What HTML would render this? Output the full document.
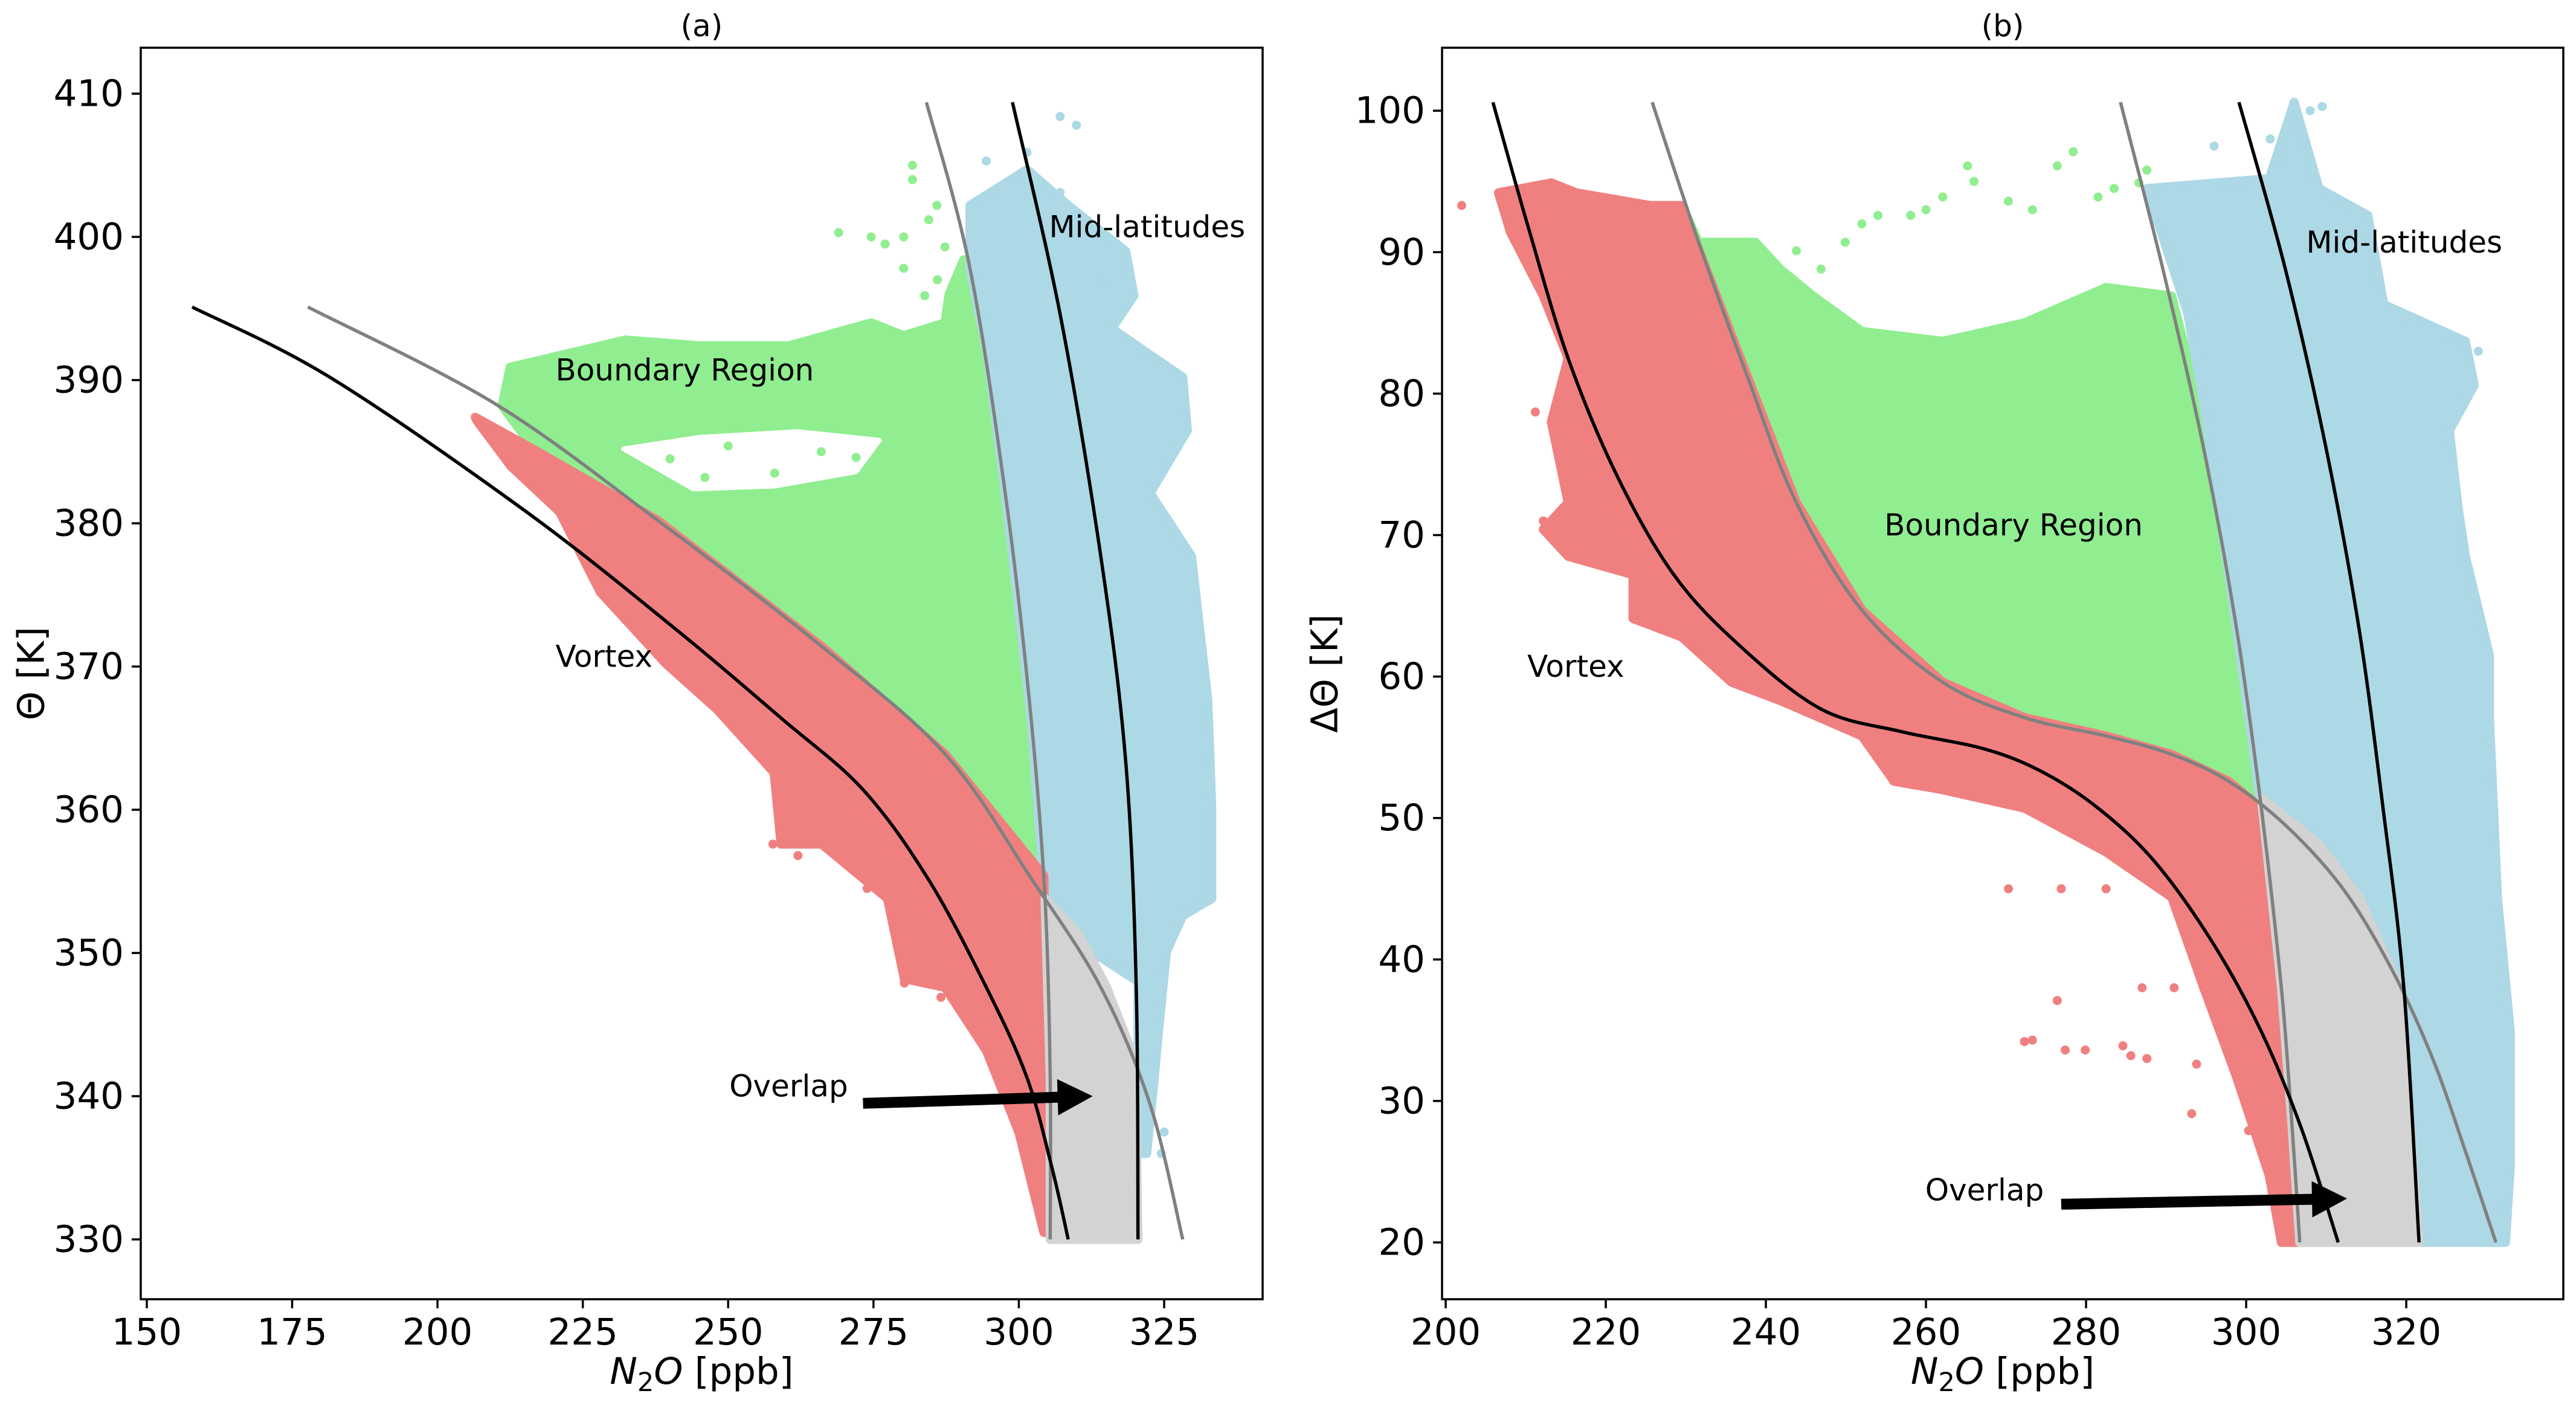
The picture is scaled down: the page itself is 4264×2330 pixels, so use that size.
<!DOCTYPE html>
<html><head><meta charset="utf-8">
<style>
html,body{margin:0;padding:0;background:#fff;}
svg{display:block;font-family:"DejaVu Sans","Liberation Sans",sans-serif;}
</style></head>
<body>
<svg id="chart" width="4264" height="2330" viewBox="0 0 4264 2330" xmlns="http://www.w3.org/2000/svg"></svg>
<script>
// ---------- Panel (a) data ----------
const aXTicks = [150,175,200,225,250,275,300,325];
const aYTicks = [330,340,350,360,370,380,390,400,410];
const aVortexCurve = [[157.8,395.1],[181.5,390.2],[215.3,380.8],[240.7,372.7],[259.1,366.4],[273.2,361.4],[284.5,355.1],[294.4,347.6],[301.4,341.3],[305.7,335],[308.5,330]];
const aVortexEdge = [[177.7,395.1],[209.7,388.4],[237.9,380.2],[266.1,371.4],[287.3,363.9],[302.3,355.1],[314.1,347.6],[322.6,339.4],[328.2,330]];
const aMidEdge = [[284.1,409.4],[291.6,397.8],[297.9,381.4],[302.1,366.4],[304.5,353.8],[305.4,341.3],[305.4,330]];
const aMidCurve = [[298.9,409.4],[307.1,394.6],[314.1,377.7],[318.4,363.3],[320.2,347.6],[320.5,330]];
const aGreen = [[211.1,388.2],[212.5,390.9],[232.3,392.8],[245,392.4],[260.5,392.4],[274.6,394],[280.2,393.1],[287.3,394],[288,396],[290.5,398.4],[294.4,388.4],[297.9,381.4],[302.1,366.4],[304.5,353.8],[302.3,355.1],[287.3,363.9],[266.1,371.4],[237.9,380.2],[216.8,385.1]];
const aGreenGap = [[232,385.2],[245,386],[262,386.4],[276,385.8],[272,383.6],[258,382.6],[244,382.4]];
const aGreenDots = [[281.7,405],[281.7,404],[269,400.3],[274.6,400],[280.2,400],[284.5,401.2],[287.3,399.3],[283.8,395.9],[280.2,397.8],[285.9,402.2],[277,399.5],[286,397],[240,384.5],[250,385.4],[258,383.5],[266,385],[272,384.6],[246,383.2]];
const aBlue = [[291.6,402.2],[301.4,404.7],[308.5,402.2],[318.4,399],[319.8,395.9],[316,393.6],[328.2,390.2],[329,386.5],[322.6,382.1],[329.7,377.7],[331.1,372.7],[332.5,367.7],[333.2,360.1],[333.2,353.8],[328.2,352.6],[325.4,350.1],[324,344.4],[323.3,341.3],[322,336],[320.5,336],[320.5,348],[305.4,352],[304.5,353.8],[302.1,366.4],[297.9,381.4],[294.5,392],[291.6,397.8]];
const aBlueDots = [[307.1,408.4],[309.9,407.8],[301.4,405.9],[294.4,405.3],[307.1,403.1],[318.4,396.5],[314,397],[324.5,336],[325,337.5]];
const aRed = [[206.5,387.4],[216.8,385.1],[237.9,380.2],[266.1,371.4],[287.3,363.9],[304.3,355.4],[304.9,341.3],[307.1,333.1],[308.5,330],[304.3,330.5],[300,337.5],[294.4,343.2],[287.3,347.6],[280.3,348.2],[277.4,353.8],[266.1,357.6],[259.1,357.6],[257.9,362.6],[248.1,367],[239.3,370.2],[228,375.2],[221,380.8],[212.6,384],[206.9,387.1]];
const aRedDots = [[257.7,357.6],[260.5,357.9],[273.9,354.5],[280.3,351.3],[280.3,347.9],[284.5,348.2],[286.6,346.9],[262,356.8]];
const aGrey = [[304.5,353.8],[310.3,351.3],[315.1,347.6],[320,342.5],[320.5,330],[305.4,330],[305.4,341.3]];
const aArrow = [[273.2,339.5],[312.7,340]];
const aLabels = [["Mid-latitudes",305.2,400.7],["Boundary Region",220.3,390.7],["Vortex",220.3,370.7],["Overlap",250.2,340.7]];

// ---------- Panel (b) data ----------
const bXTicks = [200,220,240,260,280,300,320];
const bYTicks = [20,30,40,50,60,70,80,90,100];
const bVortexCurve = [[205.9,100.6],[210.2,92.0],[215.3,82.5],[221.4,74.2],[228.5,67.2],[236.7,62.2],[246.9,57.7],[257.0,56.1],[267.2,54.9],[274.4,53.3],[281.5,50.7],[288.6,46.9],[295.8,41.2],[301.9,34.9],[307.0,27.9],[311.5,20]];
const bVortexEdge = [[225.8,100.6],[231.6,90.7],[237.7,81.2],[243.8,72.3],[252.0,64.7],[262.1,59.6],[272.3,57.1],[282.5,55.8],[290.7,54.5],[297.8,52.6],[304.9,49.5],[312.1,45.0],[318.2,39.3],[323.3,33.0],[327.3,26.6],[331.2,20]];
const bMidEdge = [[284.3,100.6],[289.6,88.8],[294.7,76.1],[298.8,63.4],[301.9,50.7],[304.4,38.0],[305.7,28.5],[306.7,20]];
const bMidCurve = [[299.1,100.6],[304.9,88.8],[310.0,76.1],[314.1,63.4],[317.1,50.7],[319.7,38.0],[321.6,20]];
const bGreen = [[229.5,93.3],[231.6,90.7],[238.7,90.7],[241.8,88.8],[245.9,86.9],[252,84.4],[262.1,83.7],[272.3,85],[282.5,87.5],[290.7,86.9],[292.7,82.5],[294.7,79.3],[298.8,63.4],[301.9,51.4],[297.8,52.6],[290.7,54.5],[282.5,55.8],[272.3,57.1],[262.1,59.6],[252,64.7],[243.8,72.3],[237.7,81.2]];
const bGreenDots = [[237.7,90.7],[243.8,90.1],[252,92],[258.1,92.6],[262.1,93.9],[265.2,96.1],[270.3,93.6],[276.4,96.1],[278.4,97.1],[281.5,93.9],[283.5,94.5],[273.3,93],[286.6,94.9],[287.6,95.8],[246.9,88.8],[249.9,90.7],[254,92.6],[240.7,88.8],[266,95],[260,93]];
const bBlue = [[287.6,94.5],[302.9,95.2],[306,100.6],[309.1,94.5],[315.2,92.6],[317.2,86.3],[327.4,83.7],[328.5,80.6],[325.4,77.4],[326.4,72.3],[327.4,68.5],[330.4,61.5],[330.4,57.1],[331.4,44.4],[333,34.9],[333,25.4],[332.4,20],[307,20],[305.7,28.5],[304.4,38],[301.9,50.7],[298.8,63.4],[294.7,79.3],[292.7,85.7]];
const bBlueDots = [[308,100],[309.5,100.3],[296,97.5],[303,98],[318,86],[320,85],[329,83]];
const bRed = [[206.6,94.2],[213.2,94.9],[216.3,94.2],[225.5,93.3],[229.5,93.3],[237.7,81.2],[243.8,72.3],[252.0,64.7],[262.1,59.6],[272.3,57.1],[282.5,55.8],[290.7,54.5],[297.8,52.6],[301.9,50.7],[304.4,38.0],[305.7,28.5],[306.7,20],[304.4,20],[302.9,24.7],[298.8,31.7],[294.7,38.0],[290.7,44.4],[282.5,47.6],[272.3,50.7],[262.1,52.0],[256.0,52.6],[252.0,55.8],[241.8,58.3],[235.7,59.6],[229.5,62.8],[223.4,64.1],[223.4,67.2],[215.3,68.5],[212.2,70.4],[215.3,72.3],[213.2,78.0],[215.3,82.5],[212.2,86.9],[208.1,91.4]];
const bRedDots = [[270.3,45],[272.3,34.2],[273.3,34.3],[276.4,37.1],[277.4,33.6],[279.9,33.6],[284.6,33.9],[287.6,33],[285.6,33.2],[293.2,29.1],[293.8,32.6],[300.3,27.9],[304.4,25.3],[306.4,22.2],[310,20.9],[308.5,20.6],[276.9,45],[282.5,45],[213.2,71],[212.2,71],[202,93.3],[211.2,78.7],[287,38],[291,38]];
const bGrey = [[301.9,51.4],[309,48.2],[314.1,44.4],[317.1,40.6],[319.2,38.0],[321.6,20],[306.7,20],[305.7,28.5],[304.4,38]];
const bArrow = [[276.9,22.7],[312.6,23.1]];
const bLabels = [["Mid-latitudes",307.5,90.7],["Boundary Region",254.8,70.7],["Vortex",210.2,60.7],["Overlap",259.9,23.7]];

const NS = "http://www.w3.org/2000/svg";
const svg = document.getElementById('chart');
function mk(tag, attrs, parent){ const e=document.createElementNS(NS,tag); for(const k in attrs) e.setAttribute(k,attrs[k]); (parent||svg).appendChild(e); return e; }

const COL = {green:"#90ee90", blue:"#add8e6", red:"#f08080", grey:"#d3d3d3"};

function smoothPath(P){
  let d = 'M'+P[0][0].toFixed(1)+','+P[0][1].toFixed(1);
  for (let i=0;i<P.length-1;i++){
    const p0=P[Math.max(0,i-1)], p1=P[i], p2=P[i+1], p3=P[Math.min(P.length-1,i+2)];
    const c1=[p1[0]+(p2[0]-p0[0])/6, p1[1]+(p2[1]-p0[1])/6];
    const c2=[p2[0]-(p3[0]-p1[0])/6, p2[1]-(p3[1]-p1[1])/6];
    d += ' C'+c1[0].toFixed(1)+','+c1[1].toFixed(1)+' '+c2[0].toFixed(1)+','+c2[1].toFixed(1)+' '+p2[0].toFixed(1)+','+p2[1].toFixed(1);
  }
  return d;
}

function panel(cfg){
  const g = mk('g',{});
  
  
  const X = v => cfg.x0 + (v - cfg.xv0) * cfg.xs;
  const Y = v => cfg.y0 - (v - cfg.yv0) * cfg.ys;
  const clipId = cfg.name + '-clip';
  const defs = mk('defs',{},g);
  const cp = mk('clipPath',{id:clipId},defs);
  mk('rect',{x:cfg.L,y:cfg.T,width:cfg.R-cfg.L,height:cfg.B-cfg.T},cp);
  const plot = mk('g',{'clip-path':'url(#'+clipId+')'},g);
  const pts = arr => arr.map(p => X(p[0]).toFixed(1)+','+Y(p[1]).toFixed(1)).join(' ');
  function region(arr, color, name){
    const p = mk('polygon',{points:pts(arr), fill:color, stroke:color, 'stroke-width':15, 'stroke-linejoin':'round'}, plot);
    
    
  }
  function dots(arr, color, name){
    const dg = mk('g',{},plot);
    
    
    arr.forEach(d => {
      const c = mk('circle',{cx:X(d[0]).toFixed(1), cy:Y(d[1]).toFixed(1), r:7.5, fill:color}, dg);
      
      
    });
  }
  region(cfg.green, COL.green, 'boundary-region-points');
  if (cfg.greenGap) { const p = mk('polygon',{points:pts(cfg.greenGap), fill:'#fff', stroke:'#fff', 'stroke-width':8, 'stroke-linejoin':'round'}, plot);   }
  dots(cfg.greenDots, COL.green, 'boundary-region-outliers');
  region(cfg.blue, COL.blue, 'mid-latitude-points');
  dots(cfg.blueDots, COL.blue, 'mid-latitude-outliers');
  region(cfg.red, COL.red, 'vortex-points');
  dots(cfg.redDots, COL.red, 'vortex-outliers');
  region(cfg.grey, COL.grey, 'overlap-points');
  function line(arr, color, name){
    const P = arr.map(p => [X(p[0]), Y(p[1])]);
    const l = mk('path',{d:smoothPath(P), fill:'none', stroke:color, 'stroke-width':5.5, 'stroke-linejoin':'round'}, plot);
    
    
  }
  line(cfg.vEdge, '#808080', 'vortex-boundary-curve');
  line(cfg.mEdge, '#808080', 'midlatitude-boundary-curve');
  line(cfg.vCurve, '#000', 'vortex-fit-curve');
  line(cfg.mCurve, '#000', 'midlatitude-fit-curve');
  const ax1=X(cfg.arrow[0][0]), ay1=Y(cfg.arrow[0][1]), ax2=X(cfg.arrow[1][0]), ay2=Y(cfg.arrow[1][1]);
  const ang = Math.atan2(ay2-ay1, ax2-ax1), hl=58, hw=30, sw=9;
  const bx = ax2 - hl*Math.cos(ang), by = ay2 - hl*Math.sin(ang);
  const nx = -Math.sin(ang), ny = Math.cos(ang);
  const ap = [[ax1+nx*sw,ay1+ny*sw],[bx+nx*sw,by+ny*sw],[bx+nx*hw,by+ny*hw],[ax2,ay2],[bx-nx*hw,by-ny*hw],[bx-nx*sw,by-ny*sw],[ax1-nx*sw,ay1-ny*sw]];
  const arrow = mk('polygon',{points:ap.map(p=>p[0].toFixed(1)+','+p[1].toFixed(1)).join(' '), fill:'#000'}, g);
  
  
  cfg.labels.forEach(lb => {
    const t = mk('text',{x:X(lb[1]).toFixed(1), y:Y(lb[2]).toFixed(1), 'font-size':50, 'dominant-baseline':'central', fill:'#000'}, g);
    t.textContent = lb[0];
    
    
  });
  const fr = mk('rect',{x:cfg.L,y:cfg.T,width:cfg.R-cfg.L,height:cfg.B-cfg.T,fill:'none',stroke:'#000','stroke-width':3.5}, g);
  
  
  cfg.xTicks.forEach(v => {
    const x = X(v);
    const tk = mk('line',{x1:x,x2:x,y1:cfg.B,y2:cfg.B+15,stroke:'#000','stroke-width':3.5}, g);
    
    
    const t = mk('text',{x:x, y:cfg.B+75, 'font-size':61, 'text-anchor':'middle'}, g);
    t.textContent = v;
    
    
  });
  cfg.yTicks.forEach(v => {
    const y = Y(v);
    const tk = mk('line',{x1:cfg.L-15,x2:cfg.L,y1:y,y2:y,stroke:'#000','stroke-width':3.5}, g);
    
    
    const t = mk('text',{x:cfg.L-28, y:y, 'font-size':61, 'text-anchor':'end', 'dominant-baseline':'central'}, g);
    t.textContent = v;
    
    
  });
  const cx = (cfg.L+cfg.R)/2;
  const title = mk('text',{x:cx, y:60, 'font-size':50, 'text-anchor':'middle'}, g);
  title.textContent = cfg.title;
  
  
  const xl = mk('text',{x:cx, y:2290, 'font-size':61, 'text-anchor':'middle'}, g);
  xl.innerHTML = '<tspan font-style="italic">N</tspan><tspan font-size="43" dy="12">2</tspan><tspan font-style="italic" dy="-12">O</tspan> [ppb]';
  
  
  const yc = (cfg.T+cfg.B)/2;
  const yl = mk('text',{x:cfg.ylx, y:yc, 'font-size':61, 'text-anchor':'middle', 'dominant-baseline':'central', transform:'rotate(-90 '+cfg.ylx+' '+yc+')'}, g);
  yl.textContent = cfg.ylabel;
  
  
}

panel({name:'panel-a', title:'(a)', ylabel:'\u0398 [K]', ylx:52,
  L:233, R:2090, T:79, B:2150, x0:243, xv0:150, xs:9.623, y0:2051, yv0:330, ys:23.7,
  xTicks:aXTicks, yTicks:aYTicks, green:aGreen, greenGap:aGreenGap, greenDots:aGreenDots, blue:aBlue, blueDots:aBlueDots,
  red:aRed, redDots:aRedDots, grey:aGrey, vCurve:aVortexCurve, vEdge:aVortexEdge, mEdge:aMidEdge, mCurve:aMidCurve,
  arrow:aArrow, labels:aLabels});
panel({name:'panel-b', title:'(b)', ylabel:'\u0394\u0398 [K]', ylx:2193,
  L:2387, R:4243, T:79, B:2150, x0:2393, xv0:200, xs:13.25, y0:2056, yv0:20, ys:23.41,
  xTicks:bXTicks, yTicks:bYTicks, green:bGreen, greenGap:null, greenDots:bGreenDots, blue:bBlue, blueDots:bBlueDots,
  red:bRed, redDots:bRedDots, grey:bGrey, vCurve:bVortexCurve, vEdge:bVortexEdge, mEdge:bMidEdge, mCurve:bMidCurve,
  arrow:bArrow, labels:bLabels});
</script>
</body></html>
